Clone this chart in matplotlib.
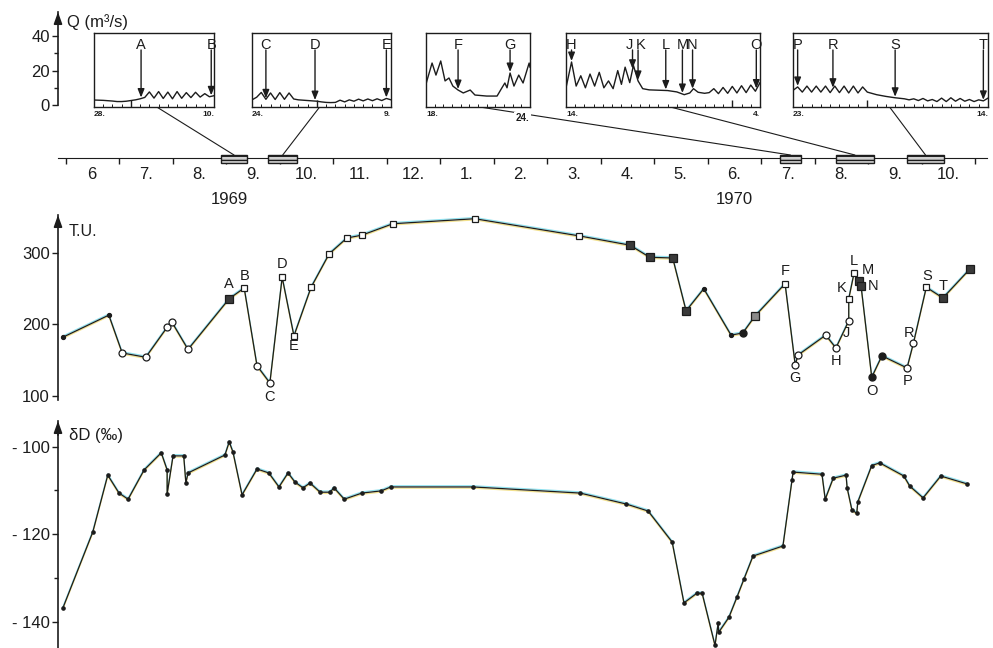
import numpy as np
import matplotlib.pyplot as plt
from matplotlib.patches import Rectangle, ConnectionPatch
from matplotlib.transforms import offset_copy

plt.rcParams['font.family'] = ['Liberation Sans', 'DejaVu Sans']
INK = '#1c1c1c'

# time is counted in months from 1 June 1969
months = ['6', '7.', '8.', '9.', '10.', '11.', '12.', '1.', '2.', '3.', '4.', '5.',
          '6.', '7.', '8.', '9.', '10.']
years = ['1969', '1970']
year_t = [3.07, 12.5]

# periods shown in the hydrograph insets (months)
box_t0 = [2.91, 3.79, 13.35, 14.40, 15.73]
box_t1 = [3.39, 4.33, 13.75, 15.11, 16.42]

# tritium (T.U.)
tu_t = [-0.05, 0.81, 1.06, 1.50, 1.90, 1.99, 2.29, 3.06, 3.34, 3.58, 3.82, 4.05, 4.27,
        4.59, 4.93, 5.26, 5.54, 6.12, 7.65, 9.60, 10.55, 10.92, 11.35, 11.60, 11.93,
        12.44, 12.66, 12.89, 13.45, 13.64, 13.69, 14.21, 14.40, 14.64, 14.64, 14.74,
        14.83, 14.87, 15.07, 15.26, 15.73, 15.85, 16.09, 16.40, 16.91]
tu_val = [182, 213, 160, 154, 196, 203, 165, 236, 251, 142, 118, 266, 184,
          252, 299, 321, 325, 341, 348, 324, 311, 294, 293, 219, 250,
          185, 188, 212, 257, 143, 157, 185, 167, 205, 236, 272,
          261, 254, 126, 156, 139, 174, 252, 237, 278]
tu_kind = ['dot', 'dot', 'circ', 'circ', 'circ', 'circ', 'circ', 'fsq', 'sq', 'circ', 'circ', 'sq', 'sq',
           'sq', 'sq', 'sq', 'sq', 'sq', 'sq', 'sq', 'fsq', 'fsq', 'fsq', 'fsq', 'dot',
           'dot', 'fcirc', 'hsq', 'sq', 'circ', 'circ', 'circ', 'circ', 'circ', 'sq', 'sq',
           'fsq', 'fsq', 'fcirc', 'fcirc', 'circ', 'circ', 'sq', 'fsq', 'fsq']
tu_lab = ['', '', '', '', '', '', '', 'A', 'B', '', 'C', 'D', 'E',
          '', '', '', '', '', '', '', '', '', '', '', '',
          '', '', '', 'F', 'G', '', '', 'H', 'J', 'K', 'L',
          'M', 'N', 'O', '', 'P', 'R', 'S', 'T', '']

# deuterium (per mil)
dd_t = [-0.05, 0.51, 0.79, 1.00, 1.17, 1.47, 1.79, 1.90, 1.90, 2.01, 2.21, 2.25, 2.29,
        2.98, 3.06, 3.13, 3.30, 3.58, 3.80, 3.99, 4.16, 4.29, 4.44, 4.57, 4.76, 4.94,
        5.02, 5.21, 5.54, 5.90, 6.08, 7.62, 9.62, 10.48, 10.89, 11.34, 11.56, 11.80,
        11.90, 12.14, 12.20, 12.21, 12.40, 12.55, 12.68, 12.85, 13.41, 13.58, 13.60,
        14.14, 14.20, 14.35, 14.59, 14.61, 14.70, 14.79, 14.81, 15.07, 15.22, 15.67,
        15.78, 16.03, 16.36, 16.85]
dd_val = [-136.9, -119.5, -106.5, -110.6, -112.0, -105.3, -101.4, -105.3, -110.8, -102.1,
          -102.1, -108.3, -106.0, -101.9, -98.9, -101.2, -111.0, -105.1, -106.0, -109.2,
          -106.0, -108.1, -109.4, -108.3, -110.4, -110.4, -109.4, -112.0, -110.6, -110.1,
          -109.2, -109.2, -110.6, -113.1, -114.7, -121.8, -135.7, -133.5, -133.5, -145.4,
          -140.3, -142.4, -139.0, -134.4, -130.3, -125.0, -122.7, -107.6, -105.8, -106.3,
          -112.0, -107.2, -106.5, -109.4, -114.5, -115.2, -112.6, -104.3, -103.7, -106.7,
          -109.0, -111.7, -106.7, -108.5]

# discharge insets: day from start, Q (m3/s)
ins1_day = [0, 0.5, 1, 1.5, 2, 2.5, 3, 3.5, 4, 4.5, 5, 5.5, 6, 6.5, 7, 7.5, 8, 8.5, 9,
            9.5, 10, 10.5, 11, 11.5, 12, 12.5, 13]
ins1_q = [2.9, 2.8, 2.7, 2.5, 2.3, 2.0, 2.0, 2.2, 2.6, 3.0, 3.6, 4.4, 7.6, 4.0, 7.8, 3.8,
          7.5, 3.6, 7.8, 3.9, 7.2, 4.3, 7.4, 4.6, 6.6, 4.8, 5.4]
ins1_let = ['A', 'B']
ins1_at = [5.1, 12.7]

ins2_day = [0, 0.5, 1, 1.5, 2, 2.5, 3, 3.5, 4, 4.5, 5, 5.5, 6, 6.5, 7, 7.5, 8, 8.5, 9,
            9.5, 10, 10.5, 11, 11.5, 12, 12.5, 13, 13.5, 14, 14.5, 15]
ins2_q = [3.0, 4.5, 7.3, 3.3, 7.0, 3.2, 7.2, 3.3, 7.0, 3.5, 3.0, 2.8, 2.6, 2.4, 2.2, 1.8,
          1.5, 1.4, 1.5, 2.8, 1.8, 3.0, 2.2, 3.4, 2.4, 3.5, 2.5, 3.6, 2.6, 3.8, 3.0]
ins2_let = ['C', 'D', 'E']
ins2_at = [1.5, 6.8, 14.5]

ins3_day = [0, 0.1, 0.7, 1.15, 1.7, 2.2, 2.65, 3.1, 3.7, 4.3, 5.1, 5.65, 7.0, 8.2, 8.75,
            9.1, 9.35, 9.7, 10.15, 10.7, 11.2, 11.9, 12]
ins3_q = [12, 14, 24.4, 17.4, 25.6, 14, 15.7, 11, 8.7, 7.0, 8.7, 5.8, 5.2, 5.2, 9.9,
          12.8, 10, 18.6, 11, 17.4, 12.8, 24.4, 22]
ins3_let = ['F', 'G']
ins3_at = [3.7, 9.7]

ins4_day = [0, 0.6, 1.1, 1.6, 2.1, 2.6, 3.1, 3.6, 4.1, 4.6, 5.1, 5.6, 6.0, 6.4, 6.9, 7.3,
            7.8, 8.3, 9, 10, 11, 12, 12.8, 13.4, 13.8, 14.3, 15, 15.5, 16, 16.5, 17, 17.5,
            18, 18.5, 19, 19.5, 20, 20.5, 21]
ins4_q = [10, 25, 11, 17, 10, 18, 11, 19, 10, 14, 9.5, 20, 12, 22, 13, 23, 14, 9.5, 8.8,
          8.6, 8.4, 7.6, 6.0, 7.0, 9.5, 7.4, 6.8, 7.2, 9.5, 6.6, 10.2, 6.8, 10.8, 7.0,
          11.2, 7.2, 11.6, 8.0, 13]
ins4_let = ['H', 'J', 'K', 'L', 'M', 'N', 'O']
ins4_at = [0.6, 7.2, 7.8, 10.8, 12.6, 13.7, 20.6]

ins5_day = [0, 0.5, 1, 1.5, 2, 2.5, 3, 3.5, 4, 4.5, 5, 5.5, 6, 6.5, 7, 7.5, 8, 9, 10, 11,
            12, 12.5, 13, 13.5, 14, 14.5, 15, 15.5, 16, 16.5, 17, 17.5, 18, 18.5, 19,
            19.5, 20, 20.5, 21]
ins5_q = [8.5, 10.5, 7.5, 11, 7.5, 11, 7.5, 11, 7.2, 11, 7.2, 11, 7.0, 11, 7.0, 10.5,
          7.5, 6.0, 5.0, 4.2, 3.6, 3.0, 3.6, 2.6, 3.8, 2.4, 3.2, 2.0, 4.0, 2.0, 4.2, 2.2,
          3.8, 2.2, 3.2, 2.0, 3.0, 2.4, 4.0]
ins5_let = ['P', 'R', 'S', 'T']
ins5_at = [0.5, 4.3, 11.0, 20.5]

ins_len = [13, 15, 12, 21, 21]
ins_month_tick = [4, 7, None, 18, 8]
ins_from = ['28.', '24.', '18.', '14.', '23.']
ins_to = ['10.', '9.', '24.', '4.', '14.']

# ---------------------------------------------------------------- layout
W, H = 993, 648
fig = plt.figure(figsize=(W / 100, H / 100), dpi=100)
fig.patch.set_facecolor('white')

T0PX, MPX = 65.5, 53.5          # pixel of 1 June 1969, pixels per month
t_axis = (58 - T0PX) / MPX
xl = ((40 - T0PX) / MPX, (993 - T0PX) / MPX)


def place(x0, y0, x1, y1):
    return fig.add_axes([x0 / W, 1 - y1 / H, (x1 - x0) / W, (y1 - y0) / H])


def panel(y0, y1, lo, hi, tip, bottom):
    ax = place(40, y0, 993, y1)
    ax.set_xlim(*xl)
    ax.set_ylim(lo, hi)
    ax.patch.set_alpha(0)
    for s in ['top', 'right', 'bottom']:
        ax.spines[s].set_visible(False)
    ax.spines['left'].set_position(('data', t_axis))
    ax.spines['left'].set_bounds(bottom, tip)
    ax.spines['left'].set_linewidth(1.2)
    ax.spines['left'].set_color(INK)
    ax.set_xticks([])
    ax.tick_params(axis='y', which='major', length=4, width=1, pad=2,
                   labelsize=12, color=INK, labelcolor=INK)
    ax.tick_params(axis='y', which='minor', length=3, width=1, color=INK)
    ax.annotate('', xy=(t_axis, tip), xytext=(t_axis, tip - (hi - lo) * 0.06),
                arrowprops=dict(arrowstyle='-|>,head_length=0.7,head_width=0.25',
                                color=INK, lw=1.2, shrinkA=0, shrinkB=0),
                annotation_clip=False)
    return ax


def fringe(ax, x, y):
    # faint colour fringes of the printed/scanned original
    up = offset_copy(ax.transData, fig=fig, x=0, y=1.2, units='dots')
    dn = offset_copy(ax.transData, fig=fig, x=0, y=-1.2, units='dots')
    ax.plot(x, y, color='#35c8e0', lw=0.9, alpha=0.55, transform=up, zorder=1, clip_on=False)
    ax.plot(x, y, color='#e8c830', lw=0.9, alpha=0.55, transform=dn, zorder=1, clip_on=False)


# Q panel
q_of = lambda y: (105 - y) / 1.72
axq = panel(8, 107, q_of(107), q_of(8), q_of(12), 0)
axq.set_yticks([0, 20, 40])
axq.set_yticks([10, 30], minor=True)
axq.text(t_axis + 0.17, q_of(22), 'Q (m³/s)', fontsize=12, va='center', color=INK)

# timeline
tl = place(40, 148, 993, 168)
tl.set_xlim(*xl)
tl.set_ylim(-1, 1)
tl.patch.set_alpha(0)
for s in ['top', 'right', 'left']:
    tl.spines[s].set_visible(False)
tl.spines['bottom'].set_position(('data', 0))
tl.spines['bottom'].set_bounds(t_axis, (987 - T0PX) / MPX)
tl.spines['bottom'].set_color(INK)
tl.set_yticks([])
tl.set_xticks(np.arange(len(months) + 1))
tl.tick_params(axis='x', direction='out', length=4.5, width=1, labelbottom=False, color=INK)
for i, m in enumerate(months):
    tl.text(i + 0.5, -1.65, m, ha='center', va='center', fontsize=12, color=INK, clip_on=False)
for y, t in zip(years, year_t):
    tl.text(t, -4.1, y, ha='center', va='center', fontsize=12, color=INK, clip_on=False)
for a, b in zip(box_t0, box_t1):
    tl.add_patch(Rectangle((a, -0.5), b - a, 0.8, facecolor='#d0d0d0', edgecolor=INK,
                           lw=1, hatch='----', zorder=3))

# insets
ins_px = [(94, 214), (252, 391), (426, 530), (566, 760), (793, 988)]
ins_link = [6.8, 7.3, 6.2, 11.3, 10.4]
let_shift = {'J': -0.35, 'K': 0.3}
ins_data = [(ins1_day, ins1_q, ins1_let, ins1_at), (ins2_day, ins2_q, ins2_let, ins2_at),
            (ins3_day, ins3_q, ins3_let, ins3_at), (ins4_day, ins4_q, ins4_let, ins4_at),
            (ins5_day, ins5_q, ins5_let, ins5_at)]
qlo, qhi = q_of(107), q_of(33)
for k, (days, q, lets, ats) in enumerate(ins_data):
    x0, x1 = ins_px[k]
    ax = place(x0, 33, x1, 107)
    ax.set_xlim(0, ins_len[k])
    ax.set_ylim(qlo, qhi)
    ax.plot(days, q, color=INK, lw=1.0)
    for s in ax.spines.values():
        s.set_linewidth(1.0)
        s.set_color(INK)
    ax.set_yticks([])
    ax.set_xticks(np.arange(ins_len[k] + 1), minor=True)
    ax.set_xticks([] if ins_month_tick[k] is None else [ins_month_tick[k]])
    ax.tick_params(axis='x', which='minor', direction='in', length=2, width=0.7, color=INK)
    ax.tick_params(axis='x', which='major', direction='in', length=5, width=1,
                   labelbottom=False, color=INK)
    for let, d in zip(lets, ats):
        tip = np.interp(d, days, q) + 0.6
        ax.annotate('', xy=(d, tip), xytext=(d, 32),
                    arrowprops=dict(arrowstyle='-|>,head_length=0.5,head_width=0.2',
                                    color=INK, lw=1.0, shrinkA=0, shrinkB=0))
        ax.text(d + let_shift.get(let, 0), 35, let, ha='center', va='center',
                fontsize=10.5, color=INK)
    ax.text(0, -0.095, ins_from[k], transform=ax.transAxes, ha='left', va='center',
            fontsize=6, fontweight='bold', color=INK)
    if k == 2:
        ax.text(0.93, -0.15, ins_to[k], transform=ax.transAxes, ha='center', va='center',
                fontsize=7, fontweight='bold', color=INK, clip_on=False,
                bbox=dict(facecolor='white', edgecolor='none', pad=1))
    else:
        ax.text(1, -0.095, ins_to[k], transform=ax.transAxes, ha='right', va='center',
                fontsize=6, fontweight='bold', color=INK)
    con = ConnectionPatch(xyA=(ins_link[k], qlo), coordsA=ax.transData,
                          xyB=((box_t0[k] + box_t1[k]) / 2, 0.3), coordsB=tl.transData,
                          color=INK, lw=0.8, zorder=-1)
    fig.add_artist(con)

# T.U. panel
tu_of = lambda y: 300 - (y - 253) / 0.714
axt = panel(205, 410, tu_of(410), tu_of(205), tu_of(215), tu_of(400))
axt.set_yticks([100, 200, 300])
axt.text(t_axis + 0.2, tu_of(232), 'T.U.', fontsize=11.5, va='center', color=INK)
fringe(axt, tu_t, tu_val)
axt.plot(tu_t, tu_val, color=INK, lw=0.9, zorder=2)
kind_style = {
    'dot': dict(marker='o', ms=2.8, mfc=INK, mec=INK),
    'circ': dict(marker='o', ms=5, mfc='white', mec=INK, mew=0.9),
    'sq': dict(marker='s', ms=5, mfc='white', mec=INK, mew=0.9),
    'fsq': dict(marker='s', ms=5.5, mfc='#3a3a3a', mec=INK, mew=0.9),
    'fcirc': dict(marker='o', ms=5, mfc=INK, mec=INK),
    'hsq': dict(marker='s', ms=5.5, mfc='#8a8a8a', mec=INK, mew=0.9),
}
tt = np.array(tu_t)
tv = np.array(tu_val)
for kind, st in kind_style.items():
    sel = [i for i, k in enumerate(tu_kind) if k == kind]
    axt.plot(tt[sel], tv[sel], ls='none', zorder=3, clip_on=False, **st)
lab_off = {'A': (0, 15), 'B': (0, 12), 'C': (0, -14), 'D': (0, 13), 'E': (0, -10),
           'F': (0, 13), 'G': (0, -13), 'H': (0, -13), 'J': (-2, -12), 'K': (-7, 11),
           'L': (0, 12), 'M': (9, 11), 'N': (12, 0), 'O': (0, -14), 'P': (1, -13),
           'R': (-4, 10), 'S': (1, 11), 'T': (0, 12)}
for t, v, lab in zip(tu_t, tu_val, tu_lab):
    if lab:
        axt.annotate(lab, (t, v), xytext=lab_off[lab], textcoords='offset pixels',
                     ha='center', va='center', fontsize=10.5, color=INK)

# deuterium panel
dd_of = lambda y: -100 - (y - 446.7) / 4.375
axd = panel(412, 648, dd_of(648), dd_of(412), dd_of(421), dd_of(648))
axd.set_yticks([-100, -120, -140])
axd.set_yticklabels(['- 100', '- 120', '- 140'])
axd.set_yticks([-110, -130], minor=True)
axd.text(t_axis + 0.2, dd_of(436), 'δD (‰)', fontsize=12, va='center', color=INK)
fringe(axd, dd_t, dd_val)
axd.plot(dd_t, dd_val, color=INK, lw=0.9, marker='o', ms=2.3, clip_on=False, zorder=2)

fig.savefig('out.png', dpi=100, facecolor='white')
